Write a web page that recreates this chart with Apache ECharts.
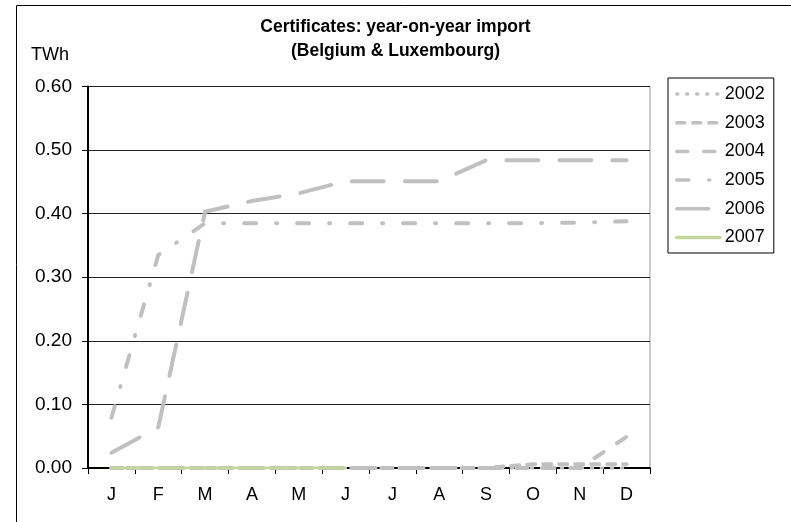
<!DOCTYPE html>
<html>
<head>
<meta charset="utf-8">
<script src="https://cdn.jsdelivr.net/npm/echarts@6/dist/echarts.min.js"></script>
<style>html,body{margin:0;padding:0;background:#fff}#c{width:791px;height:522px}</style>
</head>
<body>
<div id="c"></div>
<script>
var months = ['J','F','M','A','M','J','J','A','S','O','N','D'];
var yTicks = [0, 0.1, 0.2, 0.3, 0.4, 0.5, 0.6];
var years = ['2002','2003','2004','2005','2006','2007'];
var v2002 = [0,0,0,0,0,0,0,0,0,0,0,0];
var v2003 = [0,0,0,0,0,0,0,0,0,0.006,0.006,0.006];
var v2004 = [0,0,0,0,0,0,0,0,0,0,0,0.049];
var v2005 = [0.079,0.335,0.385,0.385,0.385,0.385,0.385,0.385,0.385,0.385,0.386,0.388];
var v2006 = [0.024,0.064,0.403,0.42,0.432,0.451,0.451,0.451,0.484,0.484,0.484,0.484];
var v2007 = [0,0,0,0,0,0];

var FONT = '"Liberation Sans", Arial, sans-serif';
var GRAY = '#c0c0c0';
var styles = [
  {color: GRAY, width: 3.5, type: [1, 9]},
  {color: GRAY, width: 4, type: [8, 8]},
  {color: GRAY, width: 4, type: [11, 16]},
  {color: GRAY, width: 4, type: [12, 20, 1, 20]},
  {color: GRAY, width: 4, type: [32, 21]},
  {color: '#c3d69b', width: 3, type: 'solid'}
];
var values = [v2002, v2003, v2004, v2005, v2006, v2007];

var chart = echarts.init(document.getElementById('c'), null, {renderer: 'canvas'});
chart.setOption({
  animation: false,
  backgroundColor: '#fff',
  textStyle: {fontFamily: FONT},
  title: [
    {text: 'Certificates: year-on-year import\n(Belgium & Luxembourg)', left: 'center', top: 10,
     textStyle: {fontFamily: FONT, fontWeight: 'bold', fontSize: 17.5, color: '#000', lineHeight: 24}},
    {text: 'TWh', left: 26, top: 41, textStyle: {fontFamily: FONT, fontWeight: 'normal', fontSize: 18, color: '#000'}}
  ],
  graphic: [{type: 'rect', shape: {x: 16.5, y: 5.5, width: 800, height: 600}, style: {fill: 'none', stroke: '#000', lineWidth: 1}, z: -1}],
  legend: {
    orient: 'vertical', left: 668, top: 78,
    padding: [6, 9, 5.5, 7],
    itemWidth: 43, itemHeight: 14, itemGap: 8.7,
    backgroundColor: '#fff', borderColor: '#000', borderWidth: 1,
    itemStyle: {opacity: 0},
    lineStyle: {width: 3.5, cap: 'round'},
    textStyle: {fontFamily: FONT, fontSize: 18, color: '#000', lineHeight: 20},
    data: years
  },
  grid: {left: 88, right: 141, top: 86.5, bottom: 54, show: true, borderColor: '#999', borderWidth: 1, backgroundColor: '#fff'},
  xAxis: {
    type: 'category', data: months, boundaryGap: true,
    axisLine: {lineStyle: {color: '#000', width: 2}},
    axisTick: {show: true, length: 6, lineStyle: {color: '#000', width: 1}},
    axisLabel: {fontFamily: FONT, fontSize: 18, color: '#000', margin: 18}
  },
  yAxis: {
    type: 'value', min: yTicks[0], max: yTicks[yTicks.length - 1], interval: 0.1,
    axisLine: {show: true, lineStyle: {color: '#000', width: 2}},
    axisTick: {show: true, length: 6, lineStyle: {color: '#000'}},
    axisLabel: {fontFamily: FONT, fontSize: 19, color: '#000', margin: 16, formatter: function (v) { return v.toFixed(2); }},
    splitLine: {lineStyle: {color: '#222', width: 1}}
  },
  series: years.map(function (y, i) {
    return {
      name: y, type: 'line', data: values[i], symbol: 'none', smooth: false,
      lineStyle: {color: styles[i].color, width: styles[i].width, type: styles[i].type, cap: 'round', join: 'round'},
      itemStyle: {color: styles[i].color}
    };
  })
});
</script>
</body>
</html>
